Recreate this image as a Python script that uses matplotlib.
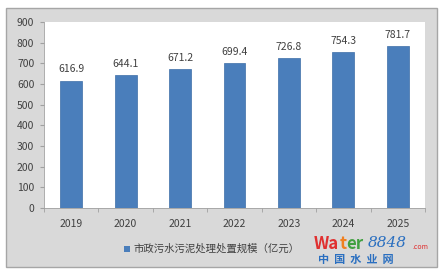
import numpy as np
import matplotlib.pyplot as plt
from matplotlib.patches import Rectangle

plt.rcParams['font.family'] = ['Noto Sans CJK SC', 'DejaVu Sans']

years = ['2019', '2020', '2021', '2022', '2023', '2024', '2025']
values = [616.9, 644.1, 671.2, 699.4, 726.8, 754.3, 781.7]
legend_label = '市政污水污泥处理处置规模（亿元）'

W, H = 444, 276
fig = plt.figure(figsize=(W / 100, H / 100), dpi=100)
fig.patch.set_facecolor('white')

# grey outer frame (pixel coords)
def px(x0, y0, x1, y1):
    return (x0 / W, 1 - y1 / H), (x1 - x0) / W, (y1 - y0) / H

xy, w, h = px(6, 8, 437, 267)
fig.patches.append(Rectangle(xy, w, h, transform=fig.transFigure,
                             facecolor='#d9d9d9', edgecolor='#a6a6a6', lw=1, zorder=-5))

ax = fig.add_axes([44 / W, 1 - 208 / H, (425 - 44) / W, (208 - 22) / H])
ax.set_zorder(2)
ax.set_facecolor('white')
x = np.arange(len(years))
bars = ax.bar(x, values, width=0.4, color='#4a7ebb', edgecolor='#3d6ea8', lw=0.5, zorder=2)
for xi, v in zip(x, values):
    ax.text(xi, v + 30, f'{v:.1f}', ha='center', va='bottom', fontsize=7.5, color='#404040')

ax.set_xlim(-0.5, len(years) - 0.5)
ax.set_ylim(0, 900)
ax.set_yticks(range(0, 901, 100))
ax.set_xticks(x)
ax.set_xticklabels(years)
ax.set_xticks(np.arange(-0.5, len(years), 1), minor=True)
ax.tick_params(axis='x', which='major', length=0, labelsize=7.5, colors='#404040', pad=8)
ax.tick_params(axis='x', which='minor', length=3, color='#a0a0a0')
ax.tick_params(axis='y', length=3, color='#a0a0a0', labelsize=7.5, labelcolor='#404040', pad=4)
for s in ['top', 'right']:
    ax.spines[s].set_visible(False)
ax.spines['left'].set_color('#a0a0a0')
ax.spines['bottom'].set_color('#a0a0a0')
ax.spines['left'].set_linewidth(0.6)
ax.spines['bottom'].set_linewidth(0.6)

# legend
fig.patches.append(Rectangle(((124) / W, 1 - 252 / H), 6 / W, 6 / H,
                             transform=fig.transFigure, facecolor='#4a7ebb', edgecolor='none'))
fig.text(133 / W, 1 - 248.5 / H, legend_label, fontsize=7.5, color='#404040', va='center')

# watermark
fig.text(314 / W, 1 - 244 / H, 'Wa', fontsize=12, color='#e03030', fontweight='bold', va='center')
fig.text(339.5 / W, 1 - 244 / H, 't', fontsize=12, color='#f08020', fontweight='bold', va='center')
fig.text(346 / W, 1 - 244 / H, 'er', fontsize=12, color='#40a040', fontweight='bold', va='center')
fig.text(368 / W, 1 - 243 / H, '8848', fontsize=11, color='#2a6fc0', style='italic',
         family='DejaVu Serif', va='center')
fig.text(412 / W, 1 - 247 / H, '.com', fontsize=5, color='#e03030', va='center')
fig.text(318 / W, 1 - 260 / H, '中  国  水  业  网', fontsize=8, color='#2a6fc0', fontweight='bold', va='center')

fig.savefig('out.png', dpi=100, facecolor='white')
